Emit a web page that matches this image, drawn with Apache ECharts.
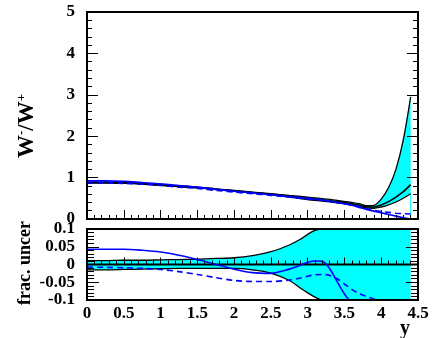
<!DOCTYPE html>
<html>
<head>
<meta charset="utf-8">
<script src="https://cdn.jsdelivr.net/npm/echarts@6/dist/echarts.min.js"></script>
<style>
html, body { margin: 0; padding: 0; background: #fff; }
#chart { width: 434px; height: 338px; }
</style>
</head>
<body>
<div id="chart"></div>
<script>
// Rapidity points for the ratio panel
const yRatio = [0, 0.25, 0.5, 0.75, 1, 1.25, 1.5, 1.75, 2, 2.25, 2.5, 2.75, 3, 3.2, 3.4, 3.6, 3.7, 3.8, 3.9, 4, 4.1, 4.2, 4.3, 4.4];
// W-/W+ ratio: central prediction and uncertainty envelope
const ratioCentral = [0.88, 0.88, 0.87, 0.85, 0.82, 0.79, 0.76, 0.72, 0.68, 0.64, 0.60, 0.55, 0.50, 0.46, 0.42, 0.37, 0.33, 0.29, 0.29, 0.34, 0.42, 0.53, 0.66, 0.83];
const ratioUpper   = [0.89, 0.89, 0.88, 0.86, 0.83, 0.80, 0.77, 0.73, 0.69, 0.65, 0.61, 0.57, 0.53, 0.49, 0.45, 0.40, 0.37, 0.32, 0.33, 0.48, 0.76, 1.20, 1.91, 2.95];
const ratioLower   = [0.87, 0.87, 0.86, 0.84, 0.81, 0.78, 0.75, 0.71, 0.67, 0.63, 0.59, 0.53, 0.47, 0.43, 0.39, 0.34, 0.30, 0.27, 0.26, 0.29, 0.34, 0.41, 0.50, 0.61];
// Alternative predictions (blue)
const ratioAltSolid  = [0.92, 0.92, 0.91, 0.88, 0.85, 0.81, 0.77, 0.72, 0.67, 0.63, 0.59, 0.54, 0.50, 0.46, 0.40, 0.33, 0.28, 0.23, 0.19, 0.15, 0.11, 0.07, 0.03, 0.00];
const ratioAltDashed = [0.87, 0.87, 0.86, 0.84, 0.81, 0.77, 0.74, 0.69, 0.65, 0.61, 0.57, 0.53, 0.48, 0.45, 0.40, 0.34, 0.30, 0.25, 0.21, 0.18, 0.16, 0.14, 0.13, 0.12];

// Rapidity points for the fractional-uncertainty panel
const yFrac = [0, 0.25, 0.5, 0.75, 1, 1.25, 1.5, 1.75, 2, 2.25, 2.5, 2.75, 2.9, 3, 3.1, 3.2, 3.3, 3.4, 3.5, 3.6, 3.7, 3.8, 3.9, 4, 4.1, 4.2, 4.3, 4.4];
const fracUpper = [0.011, 0.011, 0.012, 0.012, 0.013, 0.014, 0.015, 0.017, 0.019, 0.025, 0.036, 0.055, 0.071, 0.085, 0.096, 0.1, 0.1, 0.1, 0.1, 0.1, 0.1, 0.1, 0.1, 0.1, 0.1, 0.1, 0.1, 0.1];
const fracLower = [-0.015, -0.015, -0.014, -0.013, -0.012, -0.011, -0.011, -0.011, -0.011, -0.015, -0.024, -0.045, -0.066, -0.080, -0.092, -0.1, -0.1, -0.1, -0.1, -0.1, -0.1, -0.1, -0.1, -0.1, -0.1, -0.1, -0.1, -0.1];
const fracAltSolid  = [0.043, 0.043, 0.043, 0.040, 0.035, 0.026, 0.014, 0.000, -0.013, -0.023, -0.025, -0.013, -0.002, 0.006, 0.010, 0.009, -0.012, -0.048, -0.083, -0.110, null, null, null, null, null, null, null, null];
const fracAltDashed = [-0.007, -0.008, -0.009, -0.011, -0.014, -0.020, -0.028, -0.037, -0.045, -0.048, -0.048, -0.044, -0.038, -0.033, -0.029, -0.028, -0.031, -0.040, -0.055, -0.070, -0.082, -0.090, -0.097, -0.104, null, null, null, null];

// Axis ticks
const xTicks = [0, 0.5, 1, 1.5, 2, 2.5, 3, 3.5, 4, 4.5];
const ratioTicks = [0, 1, 2, 3, 4, 5];
const fracTicks = [-0.1, -0.05, 0, 0.05, 0.1];

const FONT = 'Liberation Serif';
const CYAN = '#00ffff';
const BLUE = '#0000ff';

const pairs = (xs, ys) => xs.map((x, i) => [x, ys[i]]);

function xAxisOf(gridIndex, labels) {
  return {
    type: 'value', gridIndex, z: 10,
    min: xTicks[0], max: xTicks[xTicks.length - 1], interval: xTicks[1] - xTicks[0],
    axisLine: { show: false },
    axisTick: { show: true, inside: true, length: gridIndex === 0 ? 9 : 7, lineStyle: { color: '#000', width: 1 } },
    minorTick: { show: true, splitNumber: 5, length: 4, lineStyle: { color: '#000', width: 1 } },
    splitLine: { show: false },
    axisLabel: labels ? { show: true, fontFamily: FONT, fontWeight: 'bold', fontSize: 17, color: '#000', margin: 5 } : { show: false }
  };
}
function yAxisOf(gridIndex, ticks, pos, labels, majorLen, minorLen) {
  return {
    type: 'value', gridIndex, position: pos, z: 10,
    min: ticks[0], max: ticks[ticks.length - 1], interval: ticks[1] - ticks[0],
    axisLine: { show: false },
    axisTick: { show: true, inside: true, length: majorLen, lineStyle: { color: '#000', width: 1 } },
    minorTick: { show: true, splitNumber: 5, length: minorLen, lineStyle: { color: '#000', width: 1 } },
    splitLine: { show: false },
    axisLabel: labels ? { show: true, fontFamily: FONT, fontWeight: 'bold', fontSize: 17, color: '#000', margin: 12 } : { show: false }
  };
}
function lineSeries(xi, yi, data, color, width, dashed, z) {
  return {
    type: 'line', xAxisIndex: xi, yAxisIndex: yi, data,
    showSymbol: false, smooth: 0.3, clip: true, z: z || 3,
    lineStyle: { color, width, type: dashed ? [6, 4] : 'solid' }
  };
}
// Envelope: cyan fill under the upper edge, white fill under the lower edge
function bandSeries(xi, yi, xs, hi, lo) {
  return [
    {
      type: 'line', xAxisIndex: xi, yAxisIndex: yi, data: pairs(xs, hi),
      showSymbol: false, smooth: 0.3, clip: true,
      lineStyle: { width: 0, opacity: 0 }, areaStyle: { color: CYAN, opacity: 1, origin: 'start' }, z: 1
    },
    {
      type: 'line', xAxisIndex: xi, yAxisIndex: yi, data: pairs(xs, lo),
      showSymbol: false, smooth: 0.3, clip: true,
      lineStyle: { width: 0, opacity: 0 }, areaStyle: { color: '#fff', opacity: 1, origin: 'start' }, z: 2
    }
  ];
}

const lastX = yRatio[yRatio.length - 1];

const chart = echarts.init(document.getElementById('chart'), null, { renderer: 'canvas' });
chart.setOption({
  animation: false,
  backgroundColor: '#fff',
  grid: [
    { left: 87, top: 12, width: 331, height: 207, show: true, borderColor: '#000', borderWidth: 2, backgroundColor: 'transparent', z: 10 },
    { left: 87, top: 229, width: 331, height: 71, show: true, borderColor: '#000', borderWidth: 2, backgroundColor: 'transparent', z: 10 }
  ],
  xAxis: [xAxisOf(0, false), xAxisOf(1, true)],
  yAxis: [
    yAxisOf(0, ratioTicks, 'left', true, 11, 5),
    yAxisOf(0, ratioTicks, 'right', false, 11, 5),
    yAxisOf(1, fracTicks, 'left', true, 12, 7),
    yAxisOf(1, fracTicks, 'right', false, 12, 7)
  ],
  series: [
    ...bandSeries(0, 0, yRatio, ratioUpper, ratioLower),
    lineSeries(0, 0, [[lastX, 0], [lastX, ratioLower[ratioLower.length - 1]]], CYAN, 1, false, 3),
    lineSeries(0, 0, pairs(yRatio, ratioUpper), '#000', 1.3),
    lineSeries(0, 0, pairs(yRatio, ratioLower), '#000', 1.3),
    lineSeries(0, 0, pairs(yRatio, ratioCentral), '#000', 1.6),
    lineSeries(0, 0, pairs(yRatio, ratioAltDashed), BLUE, 1.6, true, 4),
    lineSeries(0, 0, pairs(yRatio, ratioAltSolid), BLUE, 1.6, false, 4),

    ...bandSeries(1, 2, yFrac, fracUpper, fracLower),
    lineSeries(1, 2, pairs(yFrac, fracUpper), '#000', 1.3),
    lineSeries(1, 2, pairs(yFrac, fracLower), '#000', 1.3),
    lineSeries(1, 2, [[xTicks[0], 0], [xTicks[xTicks.length - 1], 0]], '#000', 2),
    lineSeries(1, 2, pairs(yFrac, fracAltDashed), BLUE, 1.6, true, 4),
    lineSeries(1, 2, pairs(yFrac, fracAltSolid), BLUE, 1.6, false, 4)
  ],
  graphic: [
    {
      type: 'text', x: 27, y: 126, rotation: Math.PI / 2, z: 10,
      style: {
        text: '{m|W}{s|-}{m|/W}{s|+}',
        align: 'center', verticalAlign: 'middle',
        rich: {
          m: { fontFamily: FONT, fontWeight: 'bold', fontSize: 23, fill: '#000', verticalAlign: 'bottom' },
          s: { fontFamily: FONT, fontWeight: 'bold', fontSize: 13, fill: '#000', verticalAlign: 'top' }
        }
      }
    },
    {
      type: 'text', x: 25, y: 305, rotation: Math.PI / 2, z: 10,
      style: { text: 'frac. uncert.', fontFamily: FONT, fontWeight: 'bold', fontSize: 18, fill: '#000', align: 'left', verticalAlign: 'middle' }
    },
    { type: 'rect', z: 11, shape: { x: 5, y: 160, width: 40, height: 61 }, style: { fill: '#fff' } },
    {
      type: 'text', x: 405, y: 329, z: 10,
      style: { text: 'y', fontFamily: FONT, fontWeight: 'bold', fontSize: 20, fill: '#000', align: 'center', verticalAlign: 'middle' }
    }
  ]
});
</script>
</body>
</html>
